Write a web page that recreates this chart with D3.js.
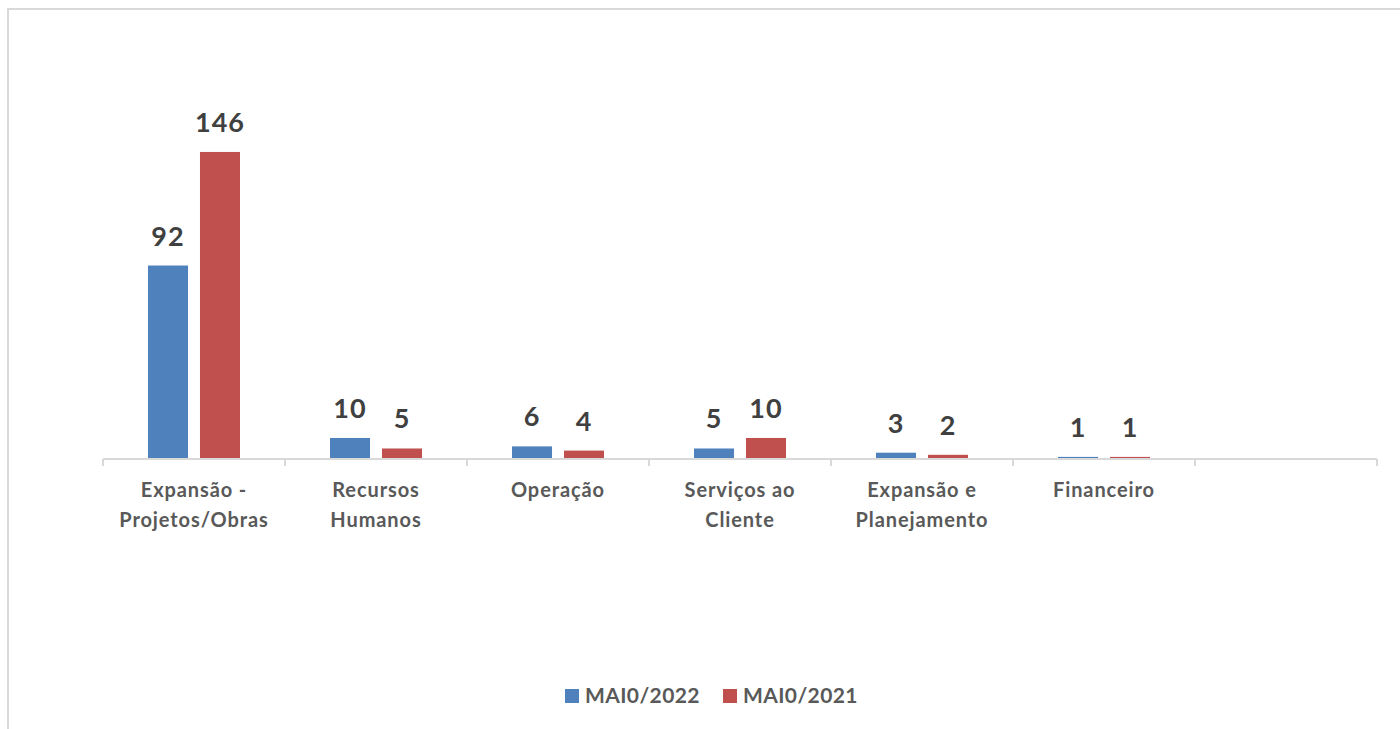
<!DOCTYPE html>
<html>
  <head>
    <title></title>
    <meta charset="utf-8">
    <style>
    body { margin: 0; background: #fff; }
    text { font-family: Lato, "Open Sans", sans-serif; font-weight: bold; }
    .frame { fill: none; stroke: #d9d9d9; stroke-width: 2px; }
    .axis path, .axis line { stroke: #d9d9d9; stroke-width: 2px; }
    .val { fill: #404040; font-size: 27px; letter-spacing: 1px; }
    .cat { fill: #595959; font-size: 20px; letter-spacing: 0.9px; }
    .leg { fill: #595959; font-size: 21px; letter-spacing: 0.4px; }
    </style>
  </head>
  <body>
    <script src="https://d3js.org/d3.v7.min.js"></script>
    <script>

    // data
    var categories = [
      ["Expansão -", "Projetos/Obras"],
      ["Recursos", "Humanos"],
      ["Operação"],
      ["Serviços ao", "Cliente"],
      ["Expansão e", "Planejamento"],
      ["Financeiro"],
      [""]
    ];
    var seriesNames = ["MAI0/2022", "MAI0/2021"];
    var mai2022 = [92, 10, 6, 5, 3, 1];
    var mai2021 = [146, 5, 4, 10, 2, 1];
    var colors = ["#4f81bd", "#c0504d"];

    var width = 1400, height = 729;
    var x0 = 103, x1 = 1377, baseY = 459;

    var svg = d3.select("body").append("svg")
        .attr("width", width)
        .attr("height", height);

    // chart frame (left + top visible)
    svg.append("path")
        .attr("class", "frame")
        .attr("d", "M 8,729 L 8,9 L 1400,9");

    var x = d3.scaleBand()
        .domain(d3.range(categories.length))
        .range([x0, x1]);

    var xs = d3.scaleBand()
        .domain([0, 1])
        .range([45, 137])
        .paddingInner(0.23);

    var y = d3.scaleLinear()
        .domain([0, 160])
        .range([baseY, baseY - 160 * 2.103]);

    var rows = mai2022.map(function(v, i) { return [v, mai2021[i]]; });

    var groups = svg.selectAll("g.cat-group")
        .data(rows)
        .enter().append("g")
          .attr("class", "cat-group")
          .attr("transform", function(d, i) { return "translate(" + x(i) + ",0)"; });

    groups.selectAll("rect")
        .data(function(d) { return d; })
        .enter().append("rect")
          .attr("x", function(d, j) { return xs(j); })
          .attr("width", xs.bandwidth())
          .attr("y", function(d) { return y(d); })
          .attr("height", function(d) { return y(0) - y(d); })
          .attr("fill", function(d, j) { return colors[j]; });

    groups.selectAll("text.val")
        .data(function(d) { return d; })
        .enter().append("text")
          .attr("class", "val")
          .attr("text-anchor", "middle")
          .attr("x", function(d, j) { return xs(j) + xs.bandwidth() / 2; })
          .attr("y", function(d) { return y(d) - 20; })
          .text(function(d) { return d; });

    // axis
    var axis = svg.append("g")
        .attr("class", "axis")
        .attr("transform", "translate(0," + baseY + ")");

    axis.append("path")
        .attr("d", "M" + x0 + ",0 H" + x1);

    axis.selectAll("line")
        .data(d3.range(categories.length + 1))
        .enter().append("line")
          .attr("x1", function(i) { return x0 + i * x.step(); })
          .attr("x2", function(i) { return x0 + i * x.step(); })
          .attr("y1", 0)
          .attr("y2", 7);

    var catText = svg.selectAll("text.cat")
        .data(categories)
        .enter().append("text")
          .attr("class", "cat")
          .attr("text-anchor", "middle")
          .attr("x", function(d, i) { return x(i) + x.bandwidth() / 2; })
          .attr("y", 497);

    catText.selectAll("tspan")
        .data(function(d) { return d; })
        .enter().append("tspan")
          .attr("x", function() { return d3.select(this.parentNode).attr("x"); })
          .attr("dy", function(d, k) { return k === 0 ? 0 : 30; })
          .text(function(d) { return d; });

    // legend
    var legendX = [565, 723];
    var legend = svg.selectAll("g.legend")
        .data(seriesNames)
        .enter().append("g")
          .attr("class", "legend")
          .attr("transform", function(d, i) { return "translate(" + legendX[i] + ",689)"; });

    legend.append("rect")
        .attr("width", 14)
        .attr("height", 14)
        .attr("fill", function(d, i) { return colors[i]; });

    legend.append("text")
        .attr("class", "leg")
        .attr("x", 20)
        .attr("y", 14)
        .text(function(d) { return d; });

    </script>
  </body>
</html>
